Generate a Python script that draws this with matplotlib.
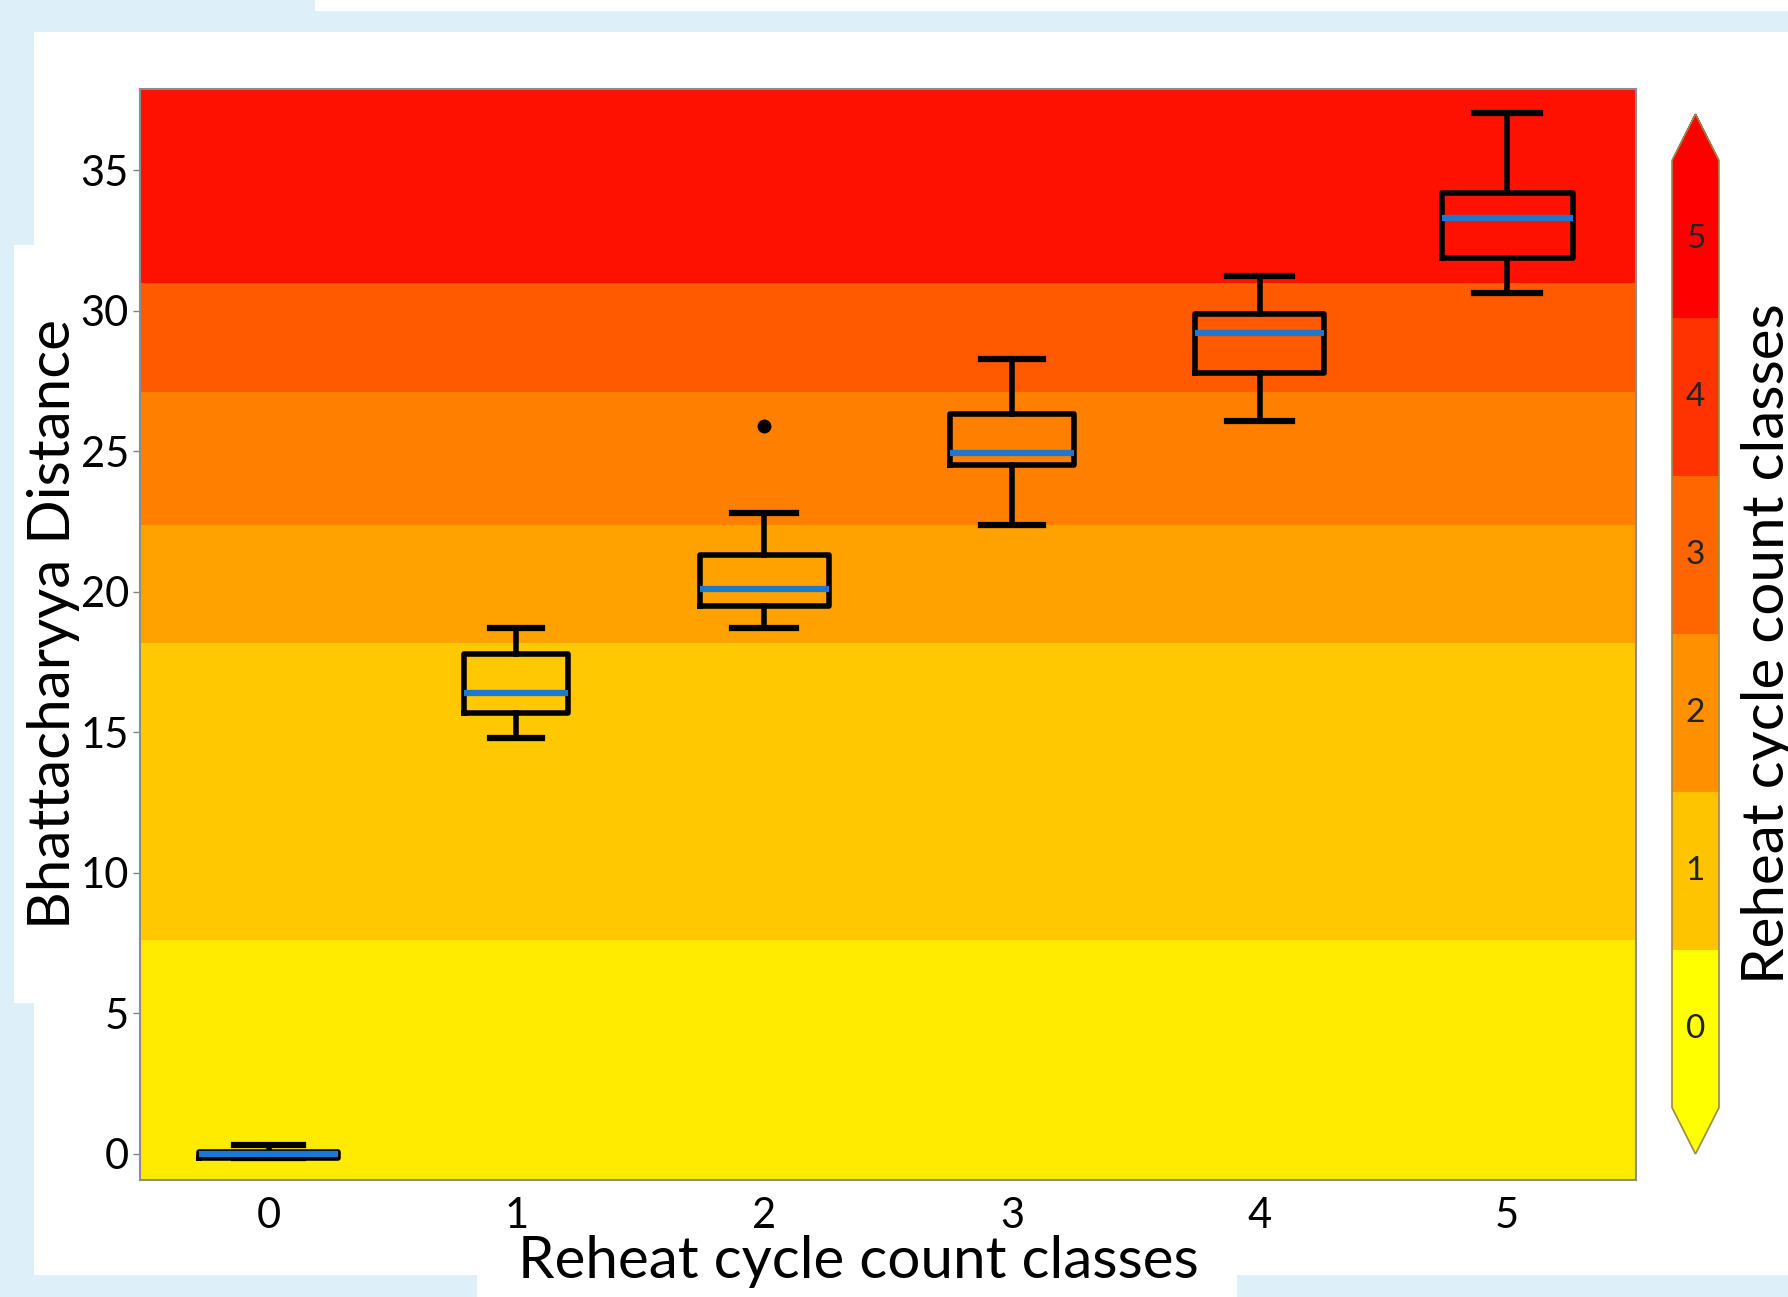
import numpy as np
import matplotlib
matplotlib.use("Agg")
import matplotlib.pyplot as plt
from matplotlib.colors import ListedColormap, BoundaryNorm
from matplotlib.cm import ScalarMappable
from matplotlib.patches import Rectangle

plt.rcParams['font.family'] = ['Lato', 'DejaVu Sans']

# Data
classes = [0, 1, 2, 3, 4, 5]
whis_lo = [-0.15, 14.8, 18.7, 22.4, 26.1, 30.65]
q1 = [-0.15, 15.7, 19.5, 24.5, 27.8, 31.9]
median = [0.0, 16.4, 20.1, 24.95, 29.2, 33.3]
q3 = [0.05, 17.8, 21.3, 26.35, 29.9, 34.2]
whis_hi = [0.3, 18.7, 22.8, 28.3, 31.25, 37.05]
fliers = [[], [], [25.9], [], [], []]
box_widths = [0.56, 0.42, 0.52, 0.5, 0.52, 0.53]

# Background class bands (y limits) and colours
band_edges = [-5, 7.6, 18.2, 22.4, 27.1, 31.0, 45]
band_colors = ['#FFEB00', '#FFC800', '#FFA200', '#FF7F00', '#FF5A00', '#FF1100']

# Colorbar colours per class
cbar_colors = ['#FFFF00', '#FFC400', '#FF9000', '#FF6600', '#FF3300', '#FF0000']

W, H = 1788, 1297
fig = plt.figure(figsize=(W / 100, H / 100), dpi=100)
fig.patch.set_facecolor('white')

# light-blue page fragments around the chart
lb = '#DDEFF9'
for (x0, y0, w, h) in [(0, 0, 34, 1297), (0, 11, 1788, 21), (0, 0, 315, 32),
                       (0, 1275, 477, 22), (1237, 1275, 551, 22)]:
    fig.add_artist(Rectangle((x0 / W, 1 - (y0 + h) / H), w / W, h / H,
                             transform=fig.transFigure, color=lb, lw=0, zorder=0))
fig.add_artist(Rectangle((14 / W, 1 - 1003 / H), 20 / W, 758 / H,
                         transform=fig.transFigure, color='white', lw=0, zorder=0))

ax = fig.add_axes([140 / W, 1 - 1180 / H, 1496 / W, 1091 / H])
ax.set_xlim(-0.52, 5.52)
ax.set_ylim(-0.93, 37.9)

for i in range(len(band_colors)):
    ax.axhspan(band_edges[i], band_edges[i + 1], color=band_colors[i], lw=0, zorder=0)

stats = []
for i in range(len(classes)):
    stats.append(dict(med=median[i], q1=q1[i], q3=q3[i], whislo=whis_lo[i],
                      whishi=whis_hi[i], fliers=fliers[i]))

ax.bxp(stats, positions=classes, widths=box_widths, manage_ticks=False,
       boxprops=dict(color='black', lw=4),
       whiskerprops=dict(color='black', lw=4),
       capprops=dict(color='black', lw=4.5),
       medianprops=dict(color='#1F78D0', lw=4.5),
       flierprops=dict(marker='o', markerfacecolor='black', markeredgecolor='black',
                       markersize=9),
       zorder=3)

ax.set_xticks(classes)
ax.set_yticks(np.arange(0, 36, 5))
ax.tick_params(axis='x', length=0, pad=12, labelsize=30)
ax.tick_params(axis='y', length=5, width=1, color='#808080', pad=3, labelsize=30)
for s in ax.spines.values():
    s.set_color('#8C8C8C')
    s.set_linewidth(1.5)

ax.set_xlabel('Reheat cycle count classes', fontsize=42)
ax.xaxis.set_label_coords(0.48, -0.075)
ax.xaxis.label.set_va('center')
ax.set_ylabel('Bhattacharyya Distance', fontsize=42)
ax.yaxis.set_label_coords(-0.058, 0.51)
ax.yaxis.label.set_va('center')

# colorbar (cax spans tip to tip, extensions drawn inside it)
cmap = ListedColormap(cbar_colors)
cmap.set_under(cbar_colors[0])
cmap.set_over(cbar_colors[-1])
norm = BoundaryNorm(np.arange(-0.5, 6.5, 1), cmap.N)
cax = fig.add_axes([1672 / W, 1 - 1154 / H, 47 / W, 1040 / H])
cb = fig.colorbar(ScalarMappable(norm=norm, cmap=cmap), cax=cax,
                  extend='both', extendfrac=0.049)
cb.outline.set_edgecolor('#9A8A50')
cb.outline.set_linewidth(1.2)
cb.set_ticks([])
cb.minorticks_off()
cax.tick_params(which='both', length=0)
for c in classes:
    cax.text(0.5, c, str(c), ha='center', va='center', fontsize=24,
             color='#222222', transform=cax.get_yaxis_transform())

fig.text(1768 / W, 1 - 644 / H, 'Reheat cycle count classes', rotation=90,
         ha='center', va='center', fontsize=42)

fig.savefig('out.png', dpi=100, facecolor=fig.get_facecolor())
